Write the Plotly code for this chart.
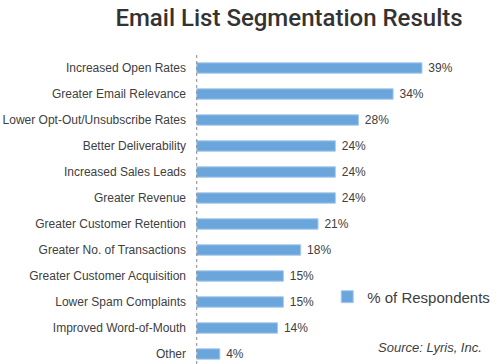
import plotly.graph_objects as go

categories = [
    "Increased Open Rates",
    "Greater Email Relevance",
    "Lower Opt-Out/Unsubscribe Rates",
    "Better Deliverability",
    "Increased Sales Leads",
    "Greater Revenue",
    "Greater Customer Retention",
    "Greater No. of Transactions",
    "Greater Customer Acquisition",
    "Lower Spam Complaints",
    "Improved Word-of-Mouth",
    "Other",
]
values = [39, 34, 28, 24, 24, 24, 21, 18, 15, 15, 14, 4]
series_name = "% of Respondents"
title_text = "Email List Segmentation Results"
source_text = "Source: Lyris, Inc."

FONT = "Liberation Sans, Arial"
TXT = "#404040"

fig = go.Figure()
fig.add_trace(go.Bar(
    y=categories,
    x=values,
    orientation="h",
    name=series_name,
    marker=dict(color="#6aa6dc", line=dict(color="#a8cbec", width=1)),
    text=[f" {v}%" for v in values],
    textposition="outside",
    constraintext="none",
    textfont=dict(family=FONT, size=12, color=TXT),
    cliponaxis=False,
    width=0.4,
    showlegend=True,
))

fig.add_shape(type="line", xref="x", yref="paper", x0=0, x1=0, y0=0, y1=1,
              line=dict(color="#8a8a8a", width=1, dash="dot"), layer="above")

fig.add_annotation(text=source_text, xref="paper", yref="paper", x=0.77, y=0.052,
                   xanchor="center", yanchor="middle", showarrow=False,
                   font=dict(family=FONT, size=13, color=TXT, style="italic"))

fig.update_layout(
    width=500, height=364,
    margin=dict(l=195, r=0, t=55, b=0, autoexpand=False),
    paper_bgcolor="white", plot_bgcolor="white",
    title=dict(text=title_text, x=0.578, xanchor="center", y=0.953, yanchor="middle",
               font=dict(family="Roboto", size=24, color="#333333", weight=500)),
    xaxis=dict(range=[-0.3, 52.5], visible=False),
    yaxis=dict(range=[11.385, -0.5], showline=False, showgrid=False, zeroline=False,
               ticks="", ticklabelstandoff=8,
               tickfont=dict(family=FONT, size=12, color=TXT)),
    legend=dict(x=0.4336, y=0.217, xanchor="left", yanchor="middle",
                font=dict(family=FONT, size=15, color=TXT),
                bgcolor="rgba(0,0,0,0)"),
    bargap=0.6,
)

fig.write_html("out.html", config={"displayModeBar": False},
               post_script="document.body.style.margin='0';")
